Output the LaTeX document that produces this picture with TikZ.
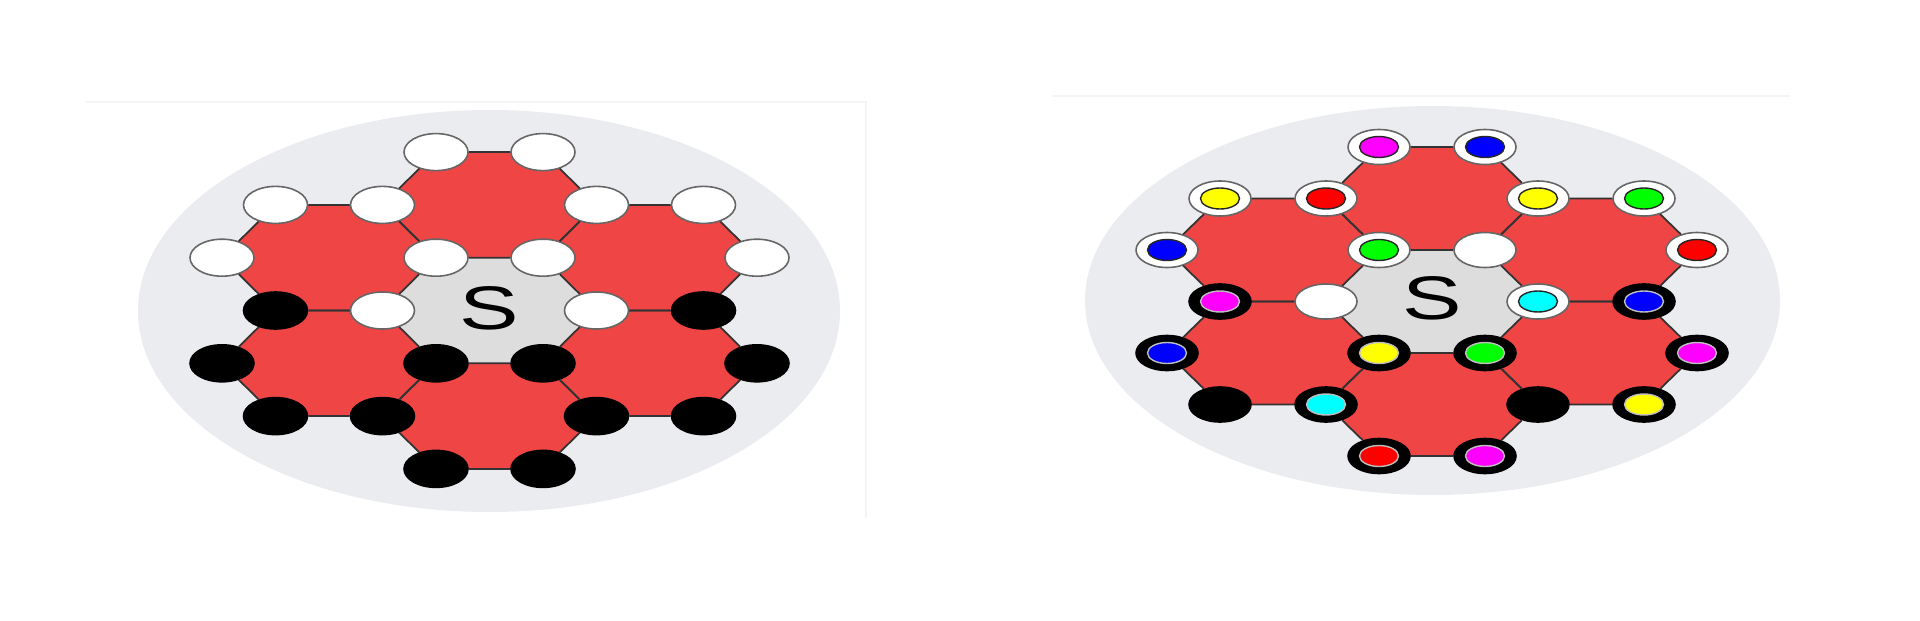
\documentclass[tikz,border=0pt]{standalone}
\usepackage{fontspec}
\usetikzlibrary{shapes.geometric}
\newfontfamily\labelfont{Liberation Sans}
\definecolor{hexred}{RGB}{239,69,69}
\definecolor{hexgray}{RGB}{221,221,221}
\definecolor{discgray}{RGB}{235,236,239}
\definecolor{edgegray}{RGB}{51,51,51}
\definecolor{dotmagenta}{RGB}{255,0,255}
\definecolor{dotcyan}{RGB}{0,255,255}
\definecolor{dotblue}{RGB}{0,0,255}
\definecolor{dotred}{RGB}{255,0,0}
\definecolor{dotgreen}{RGB}{0,255,0}
\definecolor{dotyellow}{RGB}{255,255,0}
\tikzset{
    vsize/.style = {minimum width=0.64cm, minimum height=0.37cm},
    wnode/.style = {ellipse, vsize, inner sep=0pt, line width=0.45pt, draw=black!60, fill=white},
    bnode/.style = {ellipse, vsize, inner sep=0pt, line width=0.45pt, draw=black, fill=black},
    wring/.style = {wnode, path picture={\draw[line width=0.4pt, draw=black!85, fill=#1] (path picture bounding box.center) ellipse (0.195cm and 0.105cm);}},
    bring/.style = {bnode, path picture={\draw[line width=0.4pt, draw=white!75!black, fill=#1] (path picture bounding box.center) ellipse (0.195cm and 0.105cm);}},
    hexline/.style = {line width=0.5pt, draw=edgegray},
    backdisc/.style = {fill=discgray},
    sletter/.style = {font=\labelfont\fontsize{17.5}{17.5}\selectfont, xscale=1.45},
    panelline/.style = {line width=0.5pt, draw=black!4}
}
% one filled hexagon around lattice centre (#1,#2)
\newcommand{\hexat}[3]{%
  \fill[#3] ({#1-1},{#2+1}) -- ({#1+1},{#2+1}) -- ({#1+2},#2) -- ({#1+1},{#2-1}) -- ({#1-1},{#2-1}) -- ({#1-2},#2) -- cycle;}

\begin{document}
\begin{tikzpicture}
\useasboundingbox (0,0) rectangle (19.2,6.2);
\draw[panelline] (0.86,5.18) -- (8.66,5.18) -- (8.66,1.02);
\draw[panelline] (10.52,5.24) -- (17.90,5.24);

% left: black and white
\fill[backdisc] (4.89,3.09) ellipse (3.51 and 2.01);
\begin{scope}[shift={(4.895,3.095)}, x=0.535cm, y=0.528cm]
\hexat{0}{0}{hexgray}
\hexat{0}{2}{hexred} \hexat{-3}{1}{hexred} \hexat{3}{1}{hexred}
\hexat{-3}{-1}{hexred} \hexat{3}{-1}{hexred} \hexat{0}{-2}{hexred}
\node[sletter] (lS) at (0,0.04) {S};
%
\node[wnode] (lA1) at (-1,3) {};
\node[wnode] (lA2) at (1,3) {};
\node[wnode] (lB1) at (-4,2) {};
\node[wnode] (lB2) at (-2,2) {};
\node[wnode] (lB3) at (2,2) {};
\node[wnode] (lB4) at (4,2) {};
\node[wnode] (lC1) at (-5,1) {};
\node[wnode] (lC2) at (-1,1) {};
\node[wnode] (lC3) at (1,1) {};
\node[wnode] (lC4) at (5,1) {};
\node[bnode] (lD1) at (-4,0) {};
\node[wnode] (lD2) at (-2,0) {};
\node[wnode] (lD3) at (2,0) {};
\node[bnode] (lD4) at (4,0) {};
\node[bnode] (lE1) at (-5,-1) {};
\node[bnode] (lE2) at (-1,-1) {};
\node[bnode] (lE3) at (1,-1) {};
\node[bnode] (lE4) at (5,-1) {};
\node[bnode] (lF1) at (-4,-2) {};
\node[bnode] (lF2) at (-2,-2) {};
\node[bnode] (lF3) at (2,-2) {};
\node[bnode] (lF4) at (4,-2) {};
\node[bnode] (lG1) at (-1,-3) {};
\node[bnode] (lG2) at (1,-3) {};
%
\draw[hexline] (lA1) -- (lA2) -- (lB3) -- (lC3) -- (lC2) -- (lB2) -- (lA1);
\draw[hexline] (lB1) -- (lB2) -- (lC2) -- (lD2) -- (lD1) -- (lC1) -- (lB1);
\draw[hexline] (lB3) -- (lB4) -- (lC4) -- (lD4) -- (lD3) -- (lC3) -- (lB3);
\draw[hexline] (lD1) -- (lD2) -- (lE2) -- (lF2) -- (lF1) -- (lE1) -- (lD1);
\draw[hexline] (lD3) -- (lD4) -- (lE4) -- (lF4) -- (lF3) -- (lE3) -- (lD3);
\draw[hexline] (lE2) -- (lE3) -- (lF3) -- (lG2) -- (lG1) -- (lF2) -- (lE2);
\end{scope}

% right: coloured
\fill[backdisc] (14.325,3.195) ellipse (3.475 and 1.945);
\begin{scope}[shift={(14.32,3.185)}, x=0.53cm, y=0.515cm,
    vsize/.style={minimum width=0.62cm, minimum height=0.35cm}]
\hexat{0}{0}{hexgray}
\hexat{0}{2}{hexred} \hexat{-3}{1}{hexred} \hexat{3}{1}{hexred}
\hexat{-3}{-1}{hexred} \hexat{3}{-1}{hexred} \hexat{0}{-2}{hexred}
\node[sletter] (rS) at (0,0.06) {S};
%
\node[wring=dotmagenta] (rA1) at (-1,3) {};
\node[wring=dotblue] (rA2) at (1,3) {};
\node[wring=dotyellow] (rB1) at (-4,2) {};
\node[wring=dotred] (rB2) at (-2,2) {};
\node[wring=dotyellow] (rB3) at (2,2) {};
\node[wring=dotgreen] (rB4) at (4,2) {};
\node[wring=dotblue] (rC1) at (-5,1) {};
\node[wring=dotgreen] (rC2) at (-1,1) {};
\node[wnode] (rC3) at (1,1) {};
\node[wring=dotred] (rC4) at (5,1) {};
\node[bring=dotmagenta] (rD1) at (-4,0) {};
\node[wnode] (rD2) at (-2,0) {};
\node[wring=dotcyan] (rD3) at (2,0) {};
\node[bring=dotblue] (rD4) at (4,0) {};
\node[bring=dotblue] (rE1) at (-5,-1) {};
\node[bring=dotyellow] (rE2) at (-1,-1) {};
\node[bring=dotgreen] (rE3) at (1,-1) {};
\node[bring=dotmagenta] (rE4) at (5,-1) {};
\node[bnode] (rF1) at (-4,-2) {};
\node[bring=dotcyan] (rF2) at (-2,-2) {};
\node[bnode] (rF3) at (2,-2) {};
\node[bring=dotyellow] (rF4) at (4,-2) {};
\node[bring=dotred] (rG1) at (-1,-3) {};
\node[bring=dotmagenta] (rG2) at (1,-3) {};
%
\draw[hexline] (rA1) -- (rA2) -- (rB3) -- (rC3) -- (rC2) -- (rB2) -- (rA1);
\draw[hexline] (rB1) -- (rB2) -- (rC2) -- (rD2) -- (rD1) -- (rC1) -- (rB1);
\draw[hexline] (rB3) -- (rB4) -- (rC4) -- (rD4) -- (rD3) -- (rC3) -- (rB3);
\draw[hexline] (rD1) -- (rD2) -- (rE2) -- (rF2) -- (rF1) -- (rE1) -- (rD1);
\draw[hexline] (rD3) -- (rD4) -- (rE4) -- (rF4) -- (rF3) -- (rE3) -- (rD3);
\draw[hexline] (rE2) -- (rE3) -- (rF3) -- (rG2) -- (rG1) -- (rF2) -- (rE2);
\end{scope}

\end{tikzpicture}
\end{document}
